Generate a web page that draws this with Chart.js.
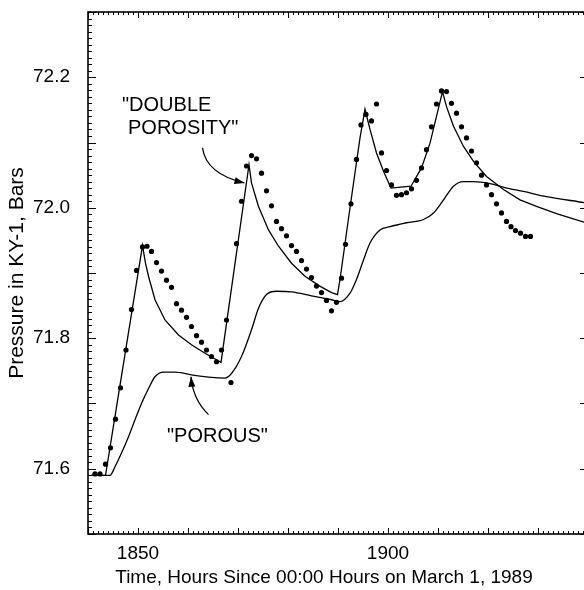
<!DOCTYPE html>
<html>
<head>
<meta charset="utf-8">
<script src="https://cdn.jsdelivr.net/npm/chart.js@4.4.1/dist/chart.umd.min.js"></script>
<style>
  html, body { margin: 0; padding: 0; background: #fff; overflow: hidden; }
  #wrap { width: 600px; height: 590px; }
</style>
</head>
<body>
<div id="wrap"><canvas id="c" width="600" height="590"></canvas></div>
<script>
// observed pressure, one reading per hour
const obsHours = [1841.4, 1842.4, 1843.5, 1844.5, 1845.5, 1846.5, 1847.6, 1848.7, 1849.7, 1850.9,
  1851.8, 1852.7, 1853.7, 1854.7, 1855.7, 1856.7, 1857.7, 1858.7, 1859.7, 1860.7,
  1861.7, 1862.7, 1863.7, 1864.7, 1865.7, 1866.7, 1867.7, 1868.6, 1869.7, 1870.7,
  1871.7, 1872.7, 1873.7, 1874.7, 1875.7, 1876.7, 1877.7, 1878.7, 1879.7, 1880.7,
  1881.7, 1882.7, 1883.7, 1884.7, 1885.7, 1886.7, 1887.7, 1888.7, 1889.7, 1890.7,
  1891.5, 1892.6, 1893.7, 1894.6, 1895.6, 1896.7, 1897.7, 1898.7, 1899.7, 1900.7,
  1901.7, 1902.7, 1903.7, 1904.7, 1905.7, 1906.7, 1907.7, 1908.7, 1909.7, 1910.7,
  1911.7, 1912.7, 1913.7, 1914.7, 1915.7, 1916.7, 1917.7, 1918.7, 1919.7, 1920.7,
  1921.7, 1922.7, 1923.7, 1924.6, 1925.5, 1926.5, 1927.5, 1928.5];
const obsPressure = [71.592, 71.592, 71.607, 71.632, 71.676, 71.724, 71.782, 71.844, 71.904, 71.940,
  71.941, 71.933, 71.916, 71.903, 71.889, 71.878, 71.853, 71.843, 71.832, 71.818,
  71.804, 71.794, 71.782, 71.772, 71.764, 71.782, 71.828, 71.732, 71.945, 72.010,
  72.064, 72.080, 72.075, 72.053, 72.026, 72.003, 71.979, 71.968, 71.957, 71.942,
  71.933, 71.919, 71.906, 71.893, 71.880, 71.870, 71.858, 71.842, 71.855, 71.892,
  71.944, 72.006, 72.074, 72.127, 72.143, 72.133, 72.159, 72.084, 72.057, 72.035,
  72.019, 72.020, 72.023, 72.029, 72.042, 72.061, 72.089, 72.124, 72.159, 72.179,
  72.178, 72.160, 72.145, 72.124, 72.107, 72.087, 72.069, 72.050, 72.035, 72.020,
  72.006, 71.992, 71.979, 71.971, 71.965, 71.961, 71.956, 71.956];

// "double porosity" model
const dpHours = [1840.7, 1843.5, 1850.9, 1851.5, 1852.1, 1853.4, 1855.4, 1858.1, 1860.7, 1863.4, 1865.7,
  1866.6, 1872.2, 1872.7, 1874.1, 1876.1, 1878.1, 1880.7, 1883.4, 1886.1, 1888.7,
  1889.9, 1890.4, 1892.4, 1894.4, 1895.4, 1896.4, 1897.7, 1899.1, 1900.6, 1904.6,
  1906.7, 1908.4, 1909.7, 1910.9, 1911.7, 1913.1, 1915.1, 1917.1, 1919.7, 1923.1,
  1926.4, 1929.7, 1933.7, 1940.0];
const dpPressure = [71.590, 71.590, 71.942, 71.915, 71.895, 71.859, 71.828, 71.805, 71.790, 71.777, 71.767,
  71.763, 72.066, 72.038, 72.002, 71.966, 71.941, 71.915, 71.895, 71.881, 71.870,
  71.867, 71.890, 72.000, 72.107, 72.151, 72.120, 72.084, 72.056, 72.030, 72.033,
  72.061, 72.099, 72.140, 72.178, 72.155, 72.125, 72.094, 72.071, 72.048, 72.028,
  72.012, 72.002, 71.991, 71.976];

// "porous" model
const porHours = [1840.7, 1844.4, 1845.4, 1846.7, 1848.1, 1849.4, 1850.7, 1852.1, 1853.4, 1855.1,
  1857.4, 1860.7, 1864.7, 1867.4, 1868.7, 1870.7, 1872.7, 1874.1, 1875.7, 1877.7,
  1880.7, 1884.7, 1888.7, 1890.4, 1892.4, 1893.7, 1895.1, 1896.4, 1898.4, 1900.4,
  1903.7, 1907.1, 1909.1, 1911.1, 1913.1, 1915.1, 1917.1, 1920.4, 1923.4, 1927.1,
  1931.7, 1939.2, 1940.0];
const porPressure = [71.590, 71.590, 71.603, 71.624, 71.649, 71.675, 71.700, 71.723, 71.741, 71.748,
  71.748, 71.744, 71.740, 71.739, 71.746, 71.772, 71.813, 71.846, 71.867, 71.872,
  71.871, 71.865, 71.859, 71.856, 71.869, 71.890, 71.920, 71.946, 71.966, 71.971,
  71.977, 71.982, 71.992, 72.012, 72.033, 72.040, 72.040, 72.037, 72.031, 72.025,
  72.017, 72.008, 72.007];

const xTickLabels = [1850, 1900];
const yTickLabels = [71.6, 71.8, 72.0, 72.2];
const xTitle = 'Time, Hours Since 00:00 Hours on March 1, 1989';

const FONT = '"Liberation Sans", Arial, Helvetica, sans-serif';

function pts(xs, ys) {
  return xs.map((x, i) => ({ x: x, y: ys[i] }));
}

// frame, inward ticks, arrows and labels
const decor = {
  id: 'decor',
  afterDatasetsDraw(chart) {
    const ctx = chart.ctx;
    const a = chart.chartArea;
    const xs = chart.scales.x, ys = chart.scales.y;
    ctx.save();
    ctx.strokeStyle = '#000';
    ctx.fillStyle = '#000';
    ctx.lineWidth = 1.6;
    ctx.strokeRect(a.left, a.top, a.right - a.left, a.bottom - a.top);

    ctx.lineWidth = 1;
    ctx.beginPath();
    for (let h = 1840; h <= 1940; h++) {
      const px = Math.round(xs.getPixelForValue(h)) + 0.5;
      const len = h % 10 === 0 ? 6 : 3;
      ctx.moveTo(px, a.bottom); ctx.lineTo(px, a.bottom - len);
      ctx.moveTo(px, a.top); ctx.lineTo(px, a.top + len);
    }
    for (let k = 0; k <= 80; k++) {
      const v = 71.5 + k / 100;
      const py = Math.round(ys.getPixelForValue(v)) + 0.5;
      const len = k % 10 === 0 ? 8 : 4;
      ctx.moveTo(a.left, py); ctx.lineTo(a.left + len, py);
      if (k % 10 === 0) { ctx.moveTo(a.right, py); ctx.lineTo(a.right - 8, py); }
    }
    ctx.stroke();

    const P = (x, y) => [xs.getPixelForValue(x), ys.getPixelForValue(y)];
    function arrow(p0, c, p1) {
      ctx.lineWidth = 1.3;
      ctx.beginPath();
      ctx.moveTo(p0[0], p0[1]);
      ctx.quadraticCurveTo(c[0], c[1], p1[0], p1[1]);
      ctx.stroke();
      const ang = Math.atan2(p1[1] - c[1], p1[0] - c[0]);
      const L = 10, W = 3.5;
      ctx.beginPath();
      ctx.moveTo(p1[0], p1[1]);
      ctx.lineTo(p1[0] - L * Math.cos(ang) + W * Math.sin(ang), p1[1] - L * Math.sin(ang) - W * Math.cos(ang));
      ctx.lineTo(p1[0] - L * Math.cos(ang) - W * Math.sin(ang), p1[1] - L * Math.sin(ang) + W * Math.cos(ang));
      ctx.closePath();
      ctx.fill();
    }
    arrow(P(1862.9, 72.092), P(1863.6, 72.052), P(1871.3, 72.038));
    arrow(P(1864.1, 71.683), P(1861.0, 71.706), P(1860.6, 71.741));

    ctx.font = '20px ' + FONT;
    ctx.textBaseline = 'middle';
    ctx.textAlign = 'left';
    let p = P(1846.8, 72.156); ctx.fillText('"DOUBLE', p[0], p[1]);
    p = P(1848.0, 72.122); ctx.fillText('POROSITY"', p[0], p[1]);
    p = P(1855.8, 71.649); ctx.fillText('"POROUS"', p[0], p[1]);

    // x axis title, centred under the visible part of the plot
    ctx.font = '19px ' + FONT;
    ctx.textAlign = 'center';
    ctx.fillText(xTitle, 324, 578);
    ctx.restore();
  }
};

new Chart(document.getElementById('c'), {
  type: 'scatter',
  data: {
    datasets: [
      {
        label: 'Observed',
        data: pts(obsHours, obsPressure),
        showLine: false,
        pointRadius: 2.6,
        pointBackgroundColor: '#000',
        pointBorderWidth: 0
      },
      {
        label: 'Double porosity',
        data: pts(dpHours, dpPressure),
        showLine: true,
        borderColor: '#000',
        borderWidth: 1.3,
        pointRadius: 0,
        tension: 0
      },
      {
        label: 'Porous',
        data: pts(porHours, porPressure),
        showLine: true,
        borderColor: '#000',
        borderWidth: 1.3,
        pointRadius: 0,
        cubicInterpolationMode: 'monotone'
      }
    ]
  },
  options: {
    responsive: false,
    animation: false,
    layout: { padding: { top: 12, right: 12, left: 0, bottom: 0 } },
    plugins: { legend: { display: false }, tooltip: { enabled: false } },
    scales: {
      x: {
        type: 'linear',
        min: 1840, max: 1940,
        afterBuildTicks: s => { s.ticks = xTickLabels.map(v => ({ value: v })); },
        afterFit: s => { s.height = 56; s.paddingLeft = 0; s.paddingRight = 0; },
        grid: { display: false, drawTicks: false },
        border: { display: false },
        ticks: { color: '#000', font: { family: FONT, size: 19 }, padding: 8, maxRotation: 0,
          callback: v => String(v) },
        title: { display: false }
      },
      y: {
        min: 71.5, max: 72.3,
        afterBuildTicks: s => { s.ticks = yTickLabels.map(v => ({ value: v })); },
        afterFit: s => { s.width = 88; s.paddingTop = 0; s.paddingBottom = 0; },
        grid: { display: false, drawTicks: false },
        border: { display: false },
        ticks: { color: '#000', font: { family: FONT, size: 19 }, padding: 18,
          callback: v => Number(v).toFixed(1) },
        title: { display: true, text: 'Pressure in KY-1, Bars',
          color: '#000', font: { family: FONT, size: 21 }, padding: { top: 5, bottom: 6 } }
      }
    }
  },
  plugins: [decor]
});
</script>
</body>
</html>
